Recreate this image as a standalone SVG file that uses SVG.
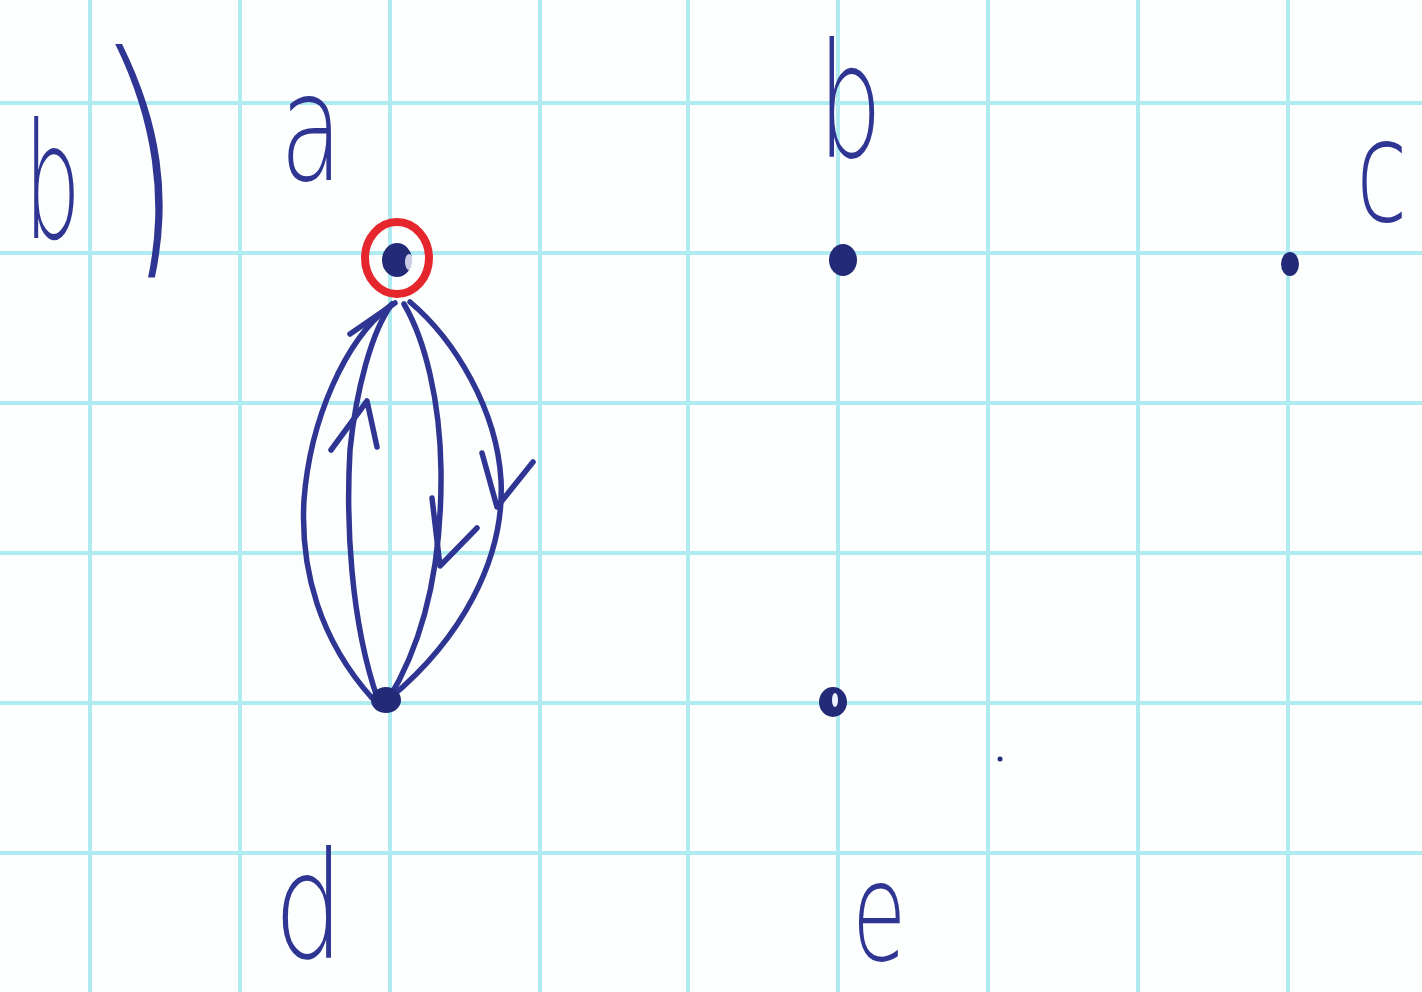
<svg xmlns="http://www.w3.org/2000/svg" width="1422" height="992" viewBox="0 0 1422 992">
<style>
.grid line{stroke:#aeecf2;stroke-width:4}
.ink{fill:none;stroke:#2f3592;stroke-width:5.5;stroke-linecap:round;stroke-linejoin:round}
.lbl{font-family:"DejaVu Sans ExtraLight","DejaVu Sans Light",Roboto,"Liberation Sans",sans-serif;font-weight:200;fill:#2f3592}
.dot{fill:#232a78}
</style>
<rect width="1422" height="992" fill="#fdfefe"/>
<g class="grid">
<line x1="90" y1="0" x2="90" y2="992"/>
<line x1="240" y1="0" x2="240" y2="992"/>
<line x1="390" y1="0" x2="390" y2="992"/>
<line x1="540" y1="0" x2="540" y2="992"/>
<line x1="688" y1="0" x2="688" y2="992"/>
<line x1="838" y1="0" x2="838" y2="992"/>
<line x1="988" y1="0" x2="988" y2="992"/>
<line x1="1138" y1="0" x2="1138" y2="992"/>
<line x1="1288" y1="0" x2="1288" y2="992"/>
<line x1="0" y1="103" x2="1422" y2="103"/>
<line x1="0" y1="253" x2="1422" y2="253"/>
<line x1="0" y1="403" x2="1422" y2="403"/>
<line x1="0" y1="553" x2="1422" y2="553"/>
<line x1="0" y1="703" x2="1422" y2="703"/>
<line x1="0" y1="853" x2="1422" y2="853"/>
</g>
<g id="title">
<text class="lbl" transform="translate(24,238) scale(0.56,1)" font-size="160">b</text>
<text class="lbl" transform="translate(126,243) skewX(8) scale(0.6,1)" font-size="262">)</text>
</g>
<g id="connectors">
<path class="ink" d="M390 306 C345 340 310 420 304 500 C300 570 320 640 372 698"/>
<path class="ink" d="M392 304 C372 330 356 390 350 450 C346 520 350 620 378 700"/>
<path class="ink" d="M404 304 C425 340 440 400 441 470 C442 560 425 640 388 700"/>
<path class="ink" d="M410 302 C455 340 497 410 501 480 C505 560 460 640 390 698"/>
<path class="ink" d="M350 334 L395 303"/>
<path class="ink" d="M331 450 L367 401 L377 447"/>
<path class="ink" d="M432 498 L440 566 L477 528"/>
<path class="ink" d="M482 453 L497 507 L533 462"/>
</g>
<g id="node-a">
<ellipse cx="397" cy="258" rx="32" ry="36" fill="none" stroke="#e5262c" stroke-width="8"/>
<ellipse cx="397" cy="260" rx="15" ry="17" class="dot"/>
<ellipse cx="409" cy="262" rx="4" ry="8" fill="#f4f4ff" opacity="0.8"/>
<text class="lbl" transform="translate(280,180) scale(0.68,1)" font-size="150">a</text>
</g>
<g id="node-b">
<ellipse cx="843" cy="260" rx="14" ry="16" class="dot"/>
<text class="lbl" transform="translate(818,157) scale(0.64,1)" font-size="158">b</text>
</g>
<g id="node-c">
<ellipse cx="1290" cy="264" rx="9" ry="12" class="dot"/>
<text class="lbl" transform="translate(1356,221) scale(0.66,1)" font-size="142">c</text>
</g>
<g id="node-d">
<ellipse cx="386" cy="700" rx="15" ry="13" class="dot"/>
<text class="lbl" transform="translate(274,958) scale(0.74,1)" font-size="148">d</text>
</g>
<g id="node-e">
<ellipse cx="833" cy="702" rx="14" ry="15" class="dot"/>
<ellipse cx="835" cy="700" rx="3" ry="7" fill="#eef2ff"/>
<text class="lbl" transform="translate(852,960) scale(0.64,1)" font-size="138">e</text>
</g>
<circle cx="1000" cy="759" r="2.5" fill="#232a78"/>
</svg>
